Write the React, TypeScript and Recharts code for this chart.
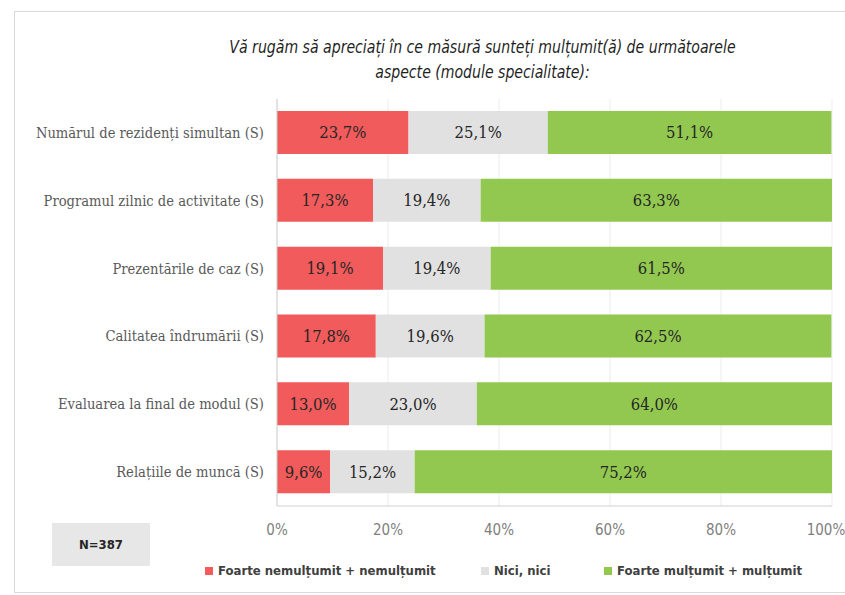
import { Bar, BarChart, CartesianGrid, LabelList, XAxis, YAxis } from "recharts";

const categories = [
  "Numărul de rezidenți simultan (S)",
  "Programul zilnic de activitate (S)",
  "Prezentările de caz (S)",
  "Calitatea îndrumării (S)",
  "Evaluarea la final de modul (S)",
  "Relațiile de muncă (S)",
];

const nemultumit = [23.7, 17.3, 19.1, 17.8, 13.0, 9.6];
const nici = [25.1, 19.4, 19.4, 19.6, 23.0, 15.2];
const multumit = [51.1, 63.3, 61.5, 62.5, 64.0, 75.2];

const xTicks = [0, 20, 40, 60, 80, 100];

const seriesNames = ["Foarte nemulțumit + nemulțumit", "Nici, nici", "Foarte mulțumit + mulțumit"];
const colors = ["#f15b5b", "#e1e1e1", "#92c850"];

const data = categories.map((name, i) => ({
  name,
  a: nemultumit[i],
  b: nici[i],
  c: multumit[i],
}));

const fmt = (v: any) => `${Number(v).toFixed(1).replace(".", ",")}%`;

const condensed = "'DejaVu Sans Condensed', 'DejaVu Sans', sans-serif";

const YTick = (props: any) => {
  const { x, y, payload } = props;
  return (
    <text
      x={x - 5}
      y={y}
      dy={5}
      textAnchor="end"
      fill="#595959"
      fontSize={14.6}
      fontFamily="'DejaVu Serif Condensed', 'DejaVu Serif', serif"
    >
      {payload.value}
    </text>
  );
};

const XTick = (props: any) => {
  const { x, y, payload } = props;
  const v = payload.value;
  return (
    <text
      x={v === 100 ? x - 6 : x}
      y={y + 21}
      textAnchor="middle"
      fill="#7f7f7f"
      fontSize={15}
      fontFamily={condensed}
    >
      {v}%
    </text>
  );
};

const labelStyle = {
  fill: "#262626",
  fontSize: 16.5,
  fontFamily: "'DejaVu Serif Condensed', 'DejaVu Serif', serif",
};

export default function App() {
  return (
    <div
      style={{
        position: "absolute",
        left: 0,
        top: 0,
        width: 845,
        height: 595,
        background: "#fff",
        overflow: "hidden",
      }}
    >
      <div
        style={{
          position: "absolute",
          left: 14,
          top: 11,
          width: 840,
          height: 580,
          border: "1px solid #d9d9d9",
        }}
      />
      <div
        style={{
          position: "absolute",
          left: 0,
          top: 34,
          width: 965,
          textAlign: "center",
          fontFamily: condensed,
          fontStyle: "italic",
          fontSize: 18,
          lineHeight: "25px",
          color: "#1f1f1f",
          transform: "scaleX(0.87)",
          transformOrigin: "50% 0",
        }}
      >
        Vă rugăm să apreciați în ce măsură sunteți mulțumit(ă) de următoarele
        <br />
        aspecte (module specialitate):
      </div>
      <div style={{ position: "absolute", left: 0, top: 0 }}>
        <BarChart
          width={845}
          height={595}
          data={data}
          layout="vertical"
          margin={{ top: 99, right: 13, bottom: 59, left: 0 }}
        >
          <CartesianGrid horizontal={false} stroke="#ececec" />
          <XAxis
            type="number"
            domain={[0, 100]}
            ticks={xTicks}
            axisLine={{ stroke: "#d0d0d0" }}
            tickLine={false}
            tick={<XTick />}
          />
          <YAxis
            type="category"
            dataKey="name"
            width={277}
            axisLine={{ stroke: "#d0d0d0" }}
            tickLine={false}
            tick={<YTick />}
          />
          <Bar dataKey="a" stackId="s" fill={colors[0]} barSize={43} isAnimationActive={false}>
            <LabelList dataKey="a" position="center" formatter={fmt} style={labelStyle} />
          </Bar>
          <Bar dataKey="b" stackId="s" fill={colors[1]} barSize={43} isAnimationActive={false}>
            <LabelList dataKey="b" position="center" formatter={fmt} style={labelStyle} />
          </Bar>
          <Bar dataKey="c" stackId="s" fill={colors[2]} barSize={43} isAnimationActive={false}>
            <LabelList dataKey="c" position="center" formatter={fmt} style={labelStyle} />
          </Bar>
        </BarChart>
      </div>
      <div
        style={{
          position: "absolute",
          left: 52,
          top: 523,
          width: 98,
          height: 43,
          background: "#e7e7e7",
          display: "flex",
          alignItems: "center",
          justifyContent: "center",
          fontFamily: condensed,
          fontWeight: "bold",
          fontSize: 13,
          color: "#262626",
        }}
      >
        N=387
      </div>
      {seriesNames.map((n, i) => (
        <div
          key={n}
          style={{
            position: "absolute",
            left: [205, 481, 604][i],
            top: 563,
            display: "flex",
            alignItems: "center",
            fontFamily: condensed,
            fontWeight: "bold",
            fontSize: 13,
            color: "#404040",
            whiteSpace: "nowrap",
          }}
        >
          <span style={{ display: "inline-block", width: 8, height: 8, background: colors[i], marginRight: 5 }} />
          {n}
        </div>
      ))}
    </div>
  );
}
